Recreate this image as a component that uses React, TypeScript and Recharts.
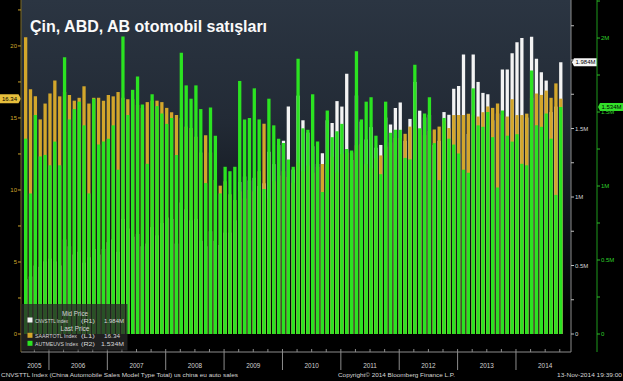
import React from 'react'
import { BarChart, Bar, XAxis, YAxis, ReferenceLine } from 'recharts'

// monthly, month-end dated (Bloomberg style)
const MONTHS = [
  '2005-07', '2005-08', '2005-09', '2005-10', '2005-11', '2005-12',
  '2006-01', '2006-02', '2006-03', '2006-04', '2006-05', '2006-06', '2006-07', '2006-08', '2006-09', '2006-10', '2006-11', '2006-12',
  '2007-01', '2007-02', '2007-03', '2007-04', '2007-05', '2007-06', '2007-07', '2007-08', '2007-09', '2007-10', '2007-11', '2007-12',
  '2008-01', '2008-02', '2008-03', '2008-04', '2008-05', '2008-06', '2008-07', '2008-08', '2008-09', '2008-10', '2008-11', '2008-12',
  '2009-01', '2009-02', '2009-03', '2009-04', '2009-05', '2009-06', '2009-07', '2009-08', '2009-09', '2009-10', '2009-11', '2009-12',
  '2010-01', '2010-02', '2010-03', '2010-04', '2010-05', '2010-06', '2010-07', '2010-08', '2010-09', '2010-10', '2010-11', '2010-12',
  '2011-01', '2011-02', '2011-03', '2011-04', '2011-05', '2011-06', '2011-07', '2011-08', '2011-09', '2011-10', '2011-11', '2011-12',
  '2012-01', '2012-02', '2012-03', '2012-04', '2012-05', '2012-06', '2012-07', '2012-08', '2012-09', '2012-10', '2012-11', '2012-12',
  '2013-01', '2013-02', '2013-03', '2013-04', '2013-05', '2013-06', '2013-07', '2013-08', '2013-09', '2013-10', '2013-11', '2013-12',
  '2014-01', '2014-02', '2014-03', '2014-04', '2014-05', '2014-06', '2014-07', '2014-08', '2014-09',
]

// CNVSTTL Index (R1), millions
const CHINA = [
  0.40, 0.42, 0.50, 0.49, 0.53, 0.55,
  0.53, 0.50, 0.69, 0.64, 0.58, 0.60, 0.52, 0.56, 0.62, 0.58, 0.62, 0.67,
  0.69, 0.60, 0.84, 0.77, 0.71, 0.73, 0.64, 0.66, 0.78, 0.72, 0.81, 0.85,
  0.84, 0.66, 0.96, 0.91, 0.83, 0.84, 0.68, 0.64, 0.75, 0.68, 0.65, 0.74,
  0.74, 0.83, 1.11, 1.15, 1.12, 1.14, 1.08, 1.10, 1.33, 1.24, 1.38, 1.41,
  1.66, 1.20, 1.74, 1.56, 1.47, 1.37, 1.24, 1.32, 1.56, 1.54, 1.70, 1.66,
  1.90, 1.27, 1.74, 1.55, 1.42, 1.51, 1.36, 1.38, 1.58, 1.53, 1.65, 1.69,
  1.41, 1.57, 1.84, 1.63, 1.58, 1.60, 1.38, 1.41, 1.62, 1.60, 1.79, 1.81,
  2.04, 1.46, 2.04, 1.84, 1.76, 1.75, 1.56, 1.61, 1.93, 1.93, 2.05, 2.13,
  2.16, 1.58, 2.17, 2.01, 1.91, 1.85, 1.62, 1.66, 1.984,
]

// SAARTOTL Index (L1), millions SAAR
const US_SAAR = [
  20.6, 17.0, 16.5, 14.9, 16.0, 16.7,
  17.6, 16.5, 16.8, 16.6, 16.2, 16.4, 17.2, 16.0, 16.4, 16.4, 16.2, 16.6,
  16.5, 16.8, 16.4, 16.3, 16.3, 15.9, 15.7, 16.1, 16.2, 16.2, 16.1, 15.7,
  15.4, 15.2, 15.0, 14.4, 14.3, 13.7, 12.6, 13.8, 12.6, 10.7, 10.3, 10.6,
  9.7, 9.3, 9.9, 9.4, 10.0, 9.9, 11.3, 14.6, 9.4, 10.6, 11.0, 11.3,
  10.9, 10.5, 11.9, 11.3, 11.7, 11.2, 11.6, 11.8, 11.8, 12.3, 11.2, 12.5,
  12.6, 12.6, 13.1, 13.2, 11.8, 11.5, 12.2, 12.4, 13.0, 13.3, 13.6, 13.6,
  13.9, 14.4, 14.3, 14.2, 13.8, 14.1, 14.2, 14.4, 14.8, 14.3, 15.2, 15.2,
  15.2, 15.3, 15.2, 15.1, 15.4, 15.8, 15.7, 16.0, 15.2, 15.1, 16.3, 15.2,
  15.2, 15.3, 16.4, 16.7, 16.6, 16.9, 16.4, 17.4, 16.34,
]

// AUTMEUVS Index (R2), millions
const EUROPE = [
  1.32, 0.95, 1.48, 1.20, 1.21, 1.14,
  1.30, 1.14, 1.87, 1.45, 1.52, 1.57, 1.41, 0.95, 1.59, 1.28, 1.30, 1.32,
  1.41, 1.11, 2.01, 1.48, 1.65, 1.74, 1.55, 1.15, 1.62, 1.54, 1.49, 1.42,
  1.46, 1.21, 1.90, 1.68, 1.59, 1.68, 1.52, 1.02, 1.53, 1.34, 0.95, 1.13,
  1.10, 1.13, 1.71, 1.45, 1.46, 1.66, 1.45, 0.98, 1.59, 1.41, 1.32, 1.29,
  1.18, 1.13, 1.86, 1.39, 1.38, 1.62, 1.30, 0.96, 1.51, 1.33, 1.37, 1.42,
  1.25, 1.24, 1.91, 1.45, 1.57, 1.60, 1.34, 1.08, 1.57, 1.36, 1.38, 1.38,
  1.19, 1.18, 1.82, 1.39, 1.49, 1.60, 1.29, 1.04, 1.46, 1.32, 1.28, 1.22,
  1.11, 1.09, 1.66, 1.41, 1.40, 1.50, 1.33, 0.99, 1.51, 1.34, 1.30, 1.35,
  1.15, 1.14, 1.78, 1.41, 1.40, 1.49, 1.32, 0.94, 1.534,
]

const L1_TICKS = [0, 2.5, 5, 7.5, 10, 12.5, 15, 17.5, 20, 22.5]
const L1_LABELS = [0, 5, 10, 15, 20]
const R1_TICKS = [0, 0.25, 0.5, 0.75, 1, 1.25, 1.5, 1.75, 2, 2.25]
const R1_LABELS = [0, 0.5, 1, 1.5]
const R2_TICKS = [0, 0.25, 0.5, 0.75, 1, 1.25, 1.5, 1.75, 2, 2.25]
const R2_LABELS = [0, 0.5, 1, 1.5, 2]
const YEAR_LABEL_AT = ['2005-09', '2006-06', '2007-06', '2008-06', '2009-06', '2010-06', '2011-06', '2012-06', '2013-06', '2014-06']
const QUARTER_END = ['03', '06', '09', '12']

const LAST_CHINA = 1.984
const LAST_US = 16.34
const LAST_EU = 1.534

const rows = MONTHS.map((month, i) => ({ month, china: CHINA[i], us: US_SAAR[i], eu: EUROPE[i] }))

const FONT = '"Liberation Sans", Arial, sans-serif'
const GREEN = '#2be321'
const GOLD = '#d3a62b'
const WHITE = '#f3f3f3'
const AXIS_GRAY = '#8c8c8c'
const BAR = 3.3

const fmtM = (v: number) => (v === 0 ? '0' : `${v}M`)

function XTick(props: any) {
  const { x, y, payload } = props
  const value = String(payload.value)
  const mo = value.slice(5)
  const cx = x - 0.8
  return (
    <g>
      {mo === '12' && <line x1={cx} x2={cx} y1={y} y2={y + 18} stroke={AXIS_GRAY} />}
      {QUARTER_END.includes(mo) && <line x1={cx} x2={cx} y1={y} y2={y - 3} stroke={AXIS_GRAY} />}
      {YEAR_LABEL_AT.includes(value) && (
        <text x={cx} y={y + 15.5} textAnchor="middle" fill="#d2d2d2" fontSize={6.4} fontFamily={FONT}>
          {value.slice(0, 4)}
        </text>
      )}
    </g>
  )
}

const tagLeft = (text: string) => (p: any) => {
  const { x, y } = p.viewBox
  return (
    <g>
      <polygon points={`${x - 21},${y - 4.5} ${x - 2.5},${y - 4.5} ${x},${y} ${x - 2.5},${y + 4.5} ${x - 21},${y + 4.5}`} fill="#e7bf3c" />
      <text x={x - 11.5} y={y + 2.1} textAnchor="middle" fontSize={6} fill="#000" fontFamily={FONT}>{text}</text>
    </g>
  )
}

const tagRight = (text: string, bg: string, shift: number) => (p: any) => {
  const { x, y, width } = p.viewBox
  const r = x + width + shift
  return (
    <g>
      <polygon points={`${r + 1},${y} ${r + 3},${y - 4} ${r + 26},${y - 4} ${r + 26},${y + 4} ${r + 3},${y + 4}`} fill={bg} />
      <text x={r + 14.5} y={y + 2.1} textAnchor="middle" fontSize={6} fill="#000" fontFamily={FONT}>{text}</text>
    </g>
  )
}

// fixed-width text, Bloomberg's legend font is narrow
function T(props: { x: number; y: number; w: number; children: React.ReactNode; size?: number; anchor?: string }) {
  return (
    <text
      x={props.x}
      y={props.y}
      textLength={props.w}
      lengthAdjust="spacingAndGlyphs"
      textAnchor={props.anchor || 'start'}
      fontFamily={FONT}
      fontSize={props.size || 6.4}
      fill="#d6d6d6"
    >
      {props.children}
    </text>
  )
}

function Overlay() {
  return (
    <svg width={623} height={381} style={{ position: 'absolute', left: 0, top: 0, pointerEvents: 'none' }}>
      <text x={30} y={32.3} fill="#fafafa" fontSize={16} fontWeight="bold" fontFamily={FONT}>
        Çin, ABD, AB otomobil satışları
      </text>
      <rect x={21} y={304} width={106.5} height={46.5} fill="rgba(40,40,40,0.78)" />
      <T x={75} y={315.5} w={26} anchor="middle">Mid Price</T>
      <rect x={27.5} y={317.5} width={5} height={5} fill={WHITE} />
      <T x={35} y={322.5} w={33} size={5.4}>CNVSTTL Index</T>
      <T x={81} y={322.5} w={14} size={5.4}>(R1)</T>
      <T x={104} y={322.5} w={20} size={5.4}>{`${LAST_CHINA}M`}</T>
      <T x={75} y={330.5} w={29} anchor="middle">Last Price</T>
      <rect x={27.5} y={332.8} width={5} height={5} fill={GOLD} />
      <T x={35} y={337.5} w={42} size={5.4}>SAARTOTL Index</T>
      <T x={81} y={337.5} w={14} size={5.4}>(L1)</T>
      <T x={104} y={337.5} w={16} size={5.4}>{String(LAST_US)}</T>
      <rect x={27.5} y={340.8} width={5} height={5} fill={GREEN} />
      <T x={35} y={345.5} w={43} size={5.4}>AUTMEUVS Index</T>
      <T x={81} y={345.5} w={14} size={5.4}>(R2)</T>
      <T x={101} y={345.5} w={23} size={5.4}>{`${LAST_EU}M`}</T>
      <T x={1} y={376.5} w={237} size={6.2}>
        CNVSTTL Index (China Automobile Sales Model Type Total) us china eu auto sales
      </T>
      <T x={338} y={376.5} w={117} size={6.2}>Copyright© 2014 Bloomberg Finance L.P.</T>
      <T x={557} y={376.5} w={65} size={6.2}>13-Nov-2014 19:39:00</T>
    </svg>
  )
}

export default function App() {
  return (
    <div style={{ position: 'absolute', left: 0, top: 0, width: 623, height: 381, background: '#000', overflow: 'hidden' }}>
      <div
        style={{
          position: 'absolute', left: 21, top: 0, width: 550, height: 352,
          background: 'linear-gradient(to bottom, #2b3542 0%, #222a35 35%, #0d1117 70%, #000 92%)',
        }}
      />
      <div style={{ position: 'absolute', left: 0, top: 0 }}>
        <BarChart width={623} height={381} data={rows} margin={{ top: 0, right: 0, bottom: 0, left: 0 }} barGap={-BAR}>
          <XAxis
            dataKey="month"
            interval={0}
            height={29}
            padding={{ left: 2, right: 8 }}
            tick={<XTick />}
            tickLine={false}
            tickSize={0}
            tickMargin={0}
            axisLine={{ stroke: AXIS_GRAY }}
          />
          <YAxis
            yAxisId="L1"
            orientation="left"
            width={21}
            domain={[0, 23.19]}
            padding={{ top: 0, bottom: 18 }}
            ticks={L1_TICKS}
            interval={0}
            tickFormatter={(v: number) => (L1_LABELS.includes(v) ? String(v) : '')}
            tick={{ fill: '#d0aa2c', fontSize: 6, fontFamily: FONT }}
            tickLine={{ stroke: '#c9a12a' }}
            tickSize={3}
            tickMargin={1}
            axisLine={{ stroke: '#7d6a22' }}
          />
          <YAxis
            yAxisId="R1"
            orientation="right"
            width={26}
            domain={[0, 2.438]}
            padding={{ top: 0, bottom: 18 }}
            ticks={R1_TICKS}
            interval={0}
            tickFormatter={(v: number) => (R1_LABELS.includes(v) ? fmtM(v) : '')}
            tick={{ fill: '#d4d4d4', fontSize: 6, fontFamily: FONT }}
            tickLine={{ stroke: '#bdbdbd' }}
            tickSize={3}
            tickMargin={1}
            axisLine={{ stroke: AXIS_GRAY }}
          />
          <YAxis
            yAxisId="R2"
            orientation="right"
            width={26}
            domain={[0, 2.257]}
            padding={{ top: 0, bottom: 18 }}
            ticks={R2_TICKS}
            interval={0}
            tickFormatter={(v: number) => (R2_LABELS.includes(v) ? fmtM(v) : '')}
            tick={{ fill: '#2fd02a', fontSize: 6, fontFamily: FONT }}
            tickLine={{ stroke: '#2fb82a' }}
            tickSize={3}
            tickMargin={1}
            axisLine={{ stroke: '#1f9a1c' }}
          />
          <Bar dataKey="china" yAxisId="R1" fill={WHITE} barSize={BAR} isAnimationActive={false} />
          <Bar dataKey="us" yAxisId="L1" fill={GOLD} barSize={BAR} isAnimationActive={false} />
          <Bar dataKey="eu" yAxisId="R2" fill={GREEN} barSize={BAR} isAnimationActive={false} />
          <ReferenceLine yAxisId="L1" y={LAST_US} stroke="none" label={tagLeft(String(LAST_US))} />
          <ReferenceLine yAxisId="R1" y={LAST_CHINA} stroke="none" label={tagRight(`${LAST_CHINA}M`, '#f4f4f4', 0)} />
          <ReferenceLine yAxisId="R2" y={LAST_EU} stroke="none" label={tagRight(`${LAST_EU}M`, '#33e02a', 26)} />
        </BarChart>
      </div>
      <Overlay />
    </div>
  )
}
